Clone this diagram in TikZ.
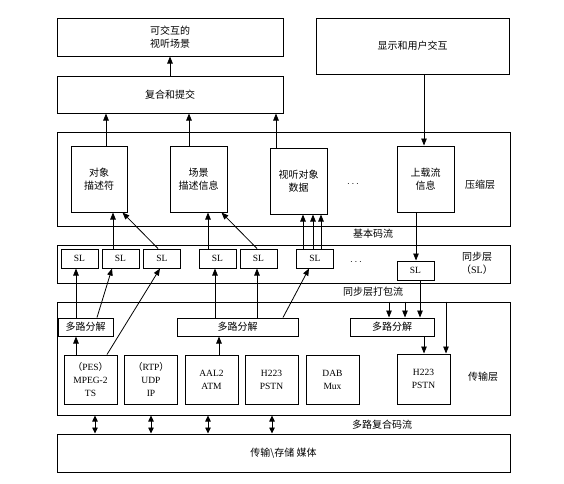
\documentclass[tikz,border=0pt]{standalone}
\usepackage{fontspec}
\setmainfont{Liberation Serif}
\newfontfamily\cjk{Noto Sans CJK SC}
\usetikzlibrary{arrows.meta}
\begin{document}
\begin{tikzpicture}[x=1pt,y=-1pt,
  box/.style={draw, line width=1pt, inner sep=0pt, align=center},
  arr/.style={-{Triangle[length=7pt,width=5.5pt]}, line width=0.8pt},
  darr/.style={{Triangle[length=6pt,width=5.5pt]}-{Triangle[length=6pt,width=5.5pt]}, line width=0.8pt},
  zh/.style={font=\cjk\fontsize{10}{13}\selectfont, align=center},
  lat/.style={font=\fontsize{9.5}{13}\selectfont},
  slbox/.style={box, lat, minimum width=37pt, minimum height=19pt},
  tbox/.style={box, lat, minimum width=53pt, minimum height=49pt},
  dmbox/.style={box, zh, minimum height=18pt}]
\fill[white] (0,0) rectangle (564,483);
\useasboundingbox (0,0) rectangle (564,483);
% top
\node[box,zh,minimum width=226pt,minimum height=38pt] (scene) at (170,37) {可交互的\\视听场景};
\node[box,zh,minimum width=226pt,minimum height=37pt] (compose) at (170,94.5) {复合和提交};
\node[box,zh,minimum width=193pt,minimum height=56pt] (display) at (412.5,46) {显示和用户交互};
% compression layer
\node[box,minimum width=453pt,minimum height=94pt] (comp) at (283.5,179) {};
\node[box,zh,minimum width=56pt,minimum height=66pt] (od) at (99,179) {对象\\描述符};
\node[box,zh,minimum width=57pt,minimum height=66pt] (sd) at (198.5,179) {场景\\描述信息};
\node[box,zh,minimum width=57pt,minimum height=66pt] (av) at (298.5,181) {视听对象\\数据};
\node[box,zh,minimum width=57pt,minimum height=66pt] (up) at (425.5,179) {上载流\\信息};
\node[zh] (complab) at (480,185) {压缩层};
\node (dots1) at (353,184) {$\cdots$};
\node[zh] (eslab) at (373,234) {基本码流};
% sync layer
\node[box,minimum width=453pt,minimum height=38pt] (sync) at (283.5,264) {};
\node[slbox] (sl1) at (79.5,258.5) {SL};
\node[slbox] (sl2) at (120.5,258.5) {SL};
\node[slbox] (sl3) at (162,258.5) {SL};
\node[slbox] (sl4) at (217.5,258.5) {SL};
\node[slbox] (sl5) at (258.5,258.5) {SL};
\node[slbox] (sl6) at (315,258.5) {SL};
\node[slbox] (sl7) at (415.5,270.5) {SL};
\node (dots2) at (356,262) {$\cdots$};
\node[zh] (synclab) at (477,263.5) {同步层\\（{\rmfamily SL}）};
\node[zh] (pktlab) at (373,292) {同步层打包流};
% transport layer
\node[box,minimum width=453pt,minimum height=113pt] (trans) at (283.5,358.5) {};
\node[dmbox,minimum width=55pt] (dm1) at (85.5,327) {多路分解};
\node[dmbox,minimum width=121pt] (dm2) at (237.5,327) {多路分解};
\node[dmbox,minimum width=84pt] (dm3) at (392,327) {多路分解};
\node[tbox] (pes) at (90.5,379.5) {{\cjk （}PES{\cjk ）}\\MPEG-2\\TS};
\node[tbox] (rtp) at (151,379.5) {{\cjk （}RTP{\cjk ）}\\UDP\\IP};
\node[tbox] (aal) at (211.5,379.5) {AAL2\\ATM};
\node[tbox] (h1) at (271.5,379.5) {H223\\PSTN};
\node[tbox] (dab) at (332.5,379.5) {DAB\\Mux};
\node[tbox,minimum height=50pt] (h2) at (423.5,379) {H223\\PSTN};
\node[zh] (translab) at (483,377) {传输层};
\node[zh] (muxlab) at (382,425) {多路复合码流};
\node[box,zh,minimum width=453pt,minimum height=38pt] (media) at (283.5,453) {传输\textbackslash 存储\ 媒体};
% connectors
\draw[arr] (compose.north) -- (scene.south);
\draw[arr] ([xshift=7]od.north) -- ([xshift=7]od.north |- compose.south);
\draw[arr] ([xshift=-9.5]sd.north) -- ([xshift=-9.5]sd.north |- compose.south);
\draw[arr] ([xshift=-22.5]av.north) -- ([xshift=-22.5]av.north |- compose.south);
\draw[arr] ([xshift=11.5]display.south) -- ([xshift=11.5]display.south |- up.north);
\draw[arr] ([xshift=-7.5]sl2.north) -- ([xshift=-7.5]sl2.north |- od.south);
\draw[arr] ([xshift=-4]sl3.north) -- ([xshift=-5]od.south east);
\draw[arr] ([xshift=-9.5]sl4.north) -- ([xshift=-9.5]sl4.north |- sd.south);
\draw[arr] ([xshift=-1.5]sl5.north) -- ([xshift=-6]sd.south east);
\draw[arr] ([xshift=-12]sl6.north) -- ([xshift=-12]sl6.north |- av.south);
\draw[arr] ([xshift=-2]sl6.north) -- ([xshift=-2]sl6.north |- av.south);
\draw[arr] ([xshift=6]sl6.north) -- ([xshift=6]sl6.north |- av.south);
\draw[arr] ([xshift=-9.5]up.south) -- ([xshift=-9.5]up.south |- sl7.north);
\draw[arr] ([xshift=-9.5]dm1.north) -- ([xshift=-9.5]dm1.north |- sl1.south);
\draw[arr] ([xshift=11.5]dm1.north) -- ([xshift=-8.5]sl2.south);
\draw[arr] ([xshift=16.5]pes.north) -- ([xshift=-2]sl3.south);
\draw[arr] ([xshift=-22.5]dm2.north) -- ([xshift=-22.5]dm2.north |- sl4.south);
\draw[arr] ([xshift=19.5]dm2.north) -- ([xshift=19.5]dm2.north |- sl5.south);
\draw[arr] ([xshift=45.5]dm2.north) -- ([xshift=-6]sl6.south);
\draw[arr] ([xshift=105.5]trans.north) -- ([xshift=105.5]trans.north |- dm3.north);
\draw[arr] ([xshift=121.5]trans.north) -- ([xshift=121.5]trans.north |- dm3.north);
\draw[arr] ([xshift=4.5]sl7.south) -- ([xshift=4.5]sl7.south |- dm3.north);
\draw[arr] ([xshift=32]dm3.south) -- ([xshift=32]dm3.south |- h2.north);
\draw[arr] ([xshift=162.5]trans.north) -- ([xshift=162.5]trans.north |- h2.north);
\draw[arr] ([xshift=-14.5]pes.north) -- ([xshift=-14.5]pes.north |- dm1.south);
\draw[arr] ([xshift=7.5]aal.north) -- ([xshift=7.5]aal.north |- dm2.south);
\foreach \dx in {-188.5,-132.5,-75.5,-11.5}
  \draw[darr] ([xshift=\dx]trans.south) -- ([xshift=\dx]trans.south |- media.north);
\end{tikzpicture}
\end{document}
